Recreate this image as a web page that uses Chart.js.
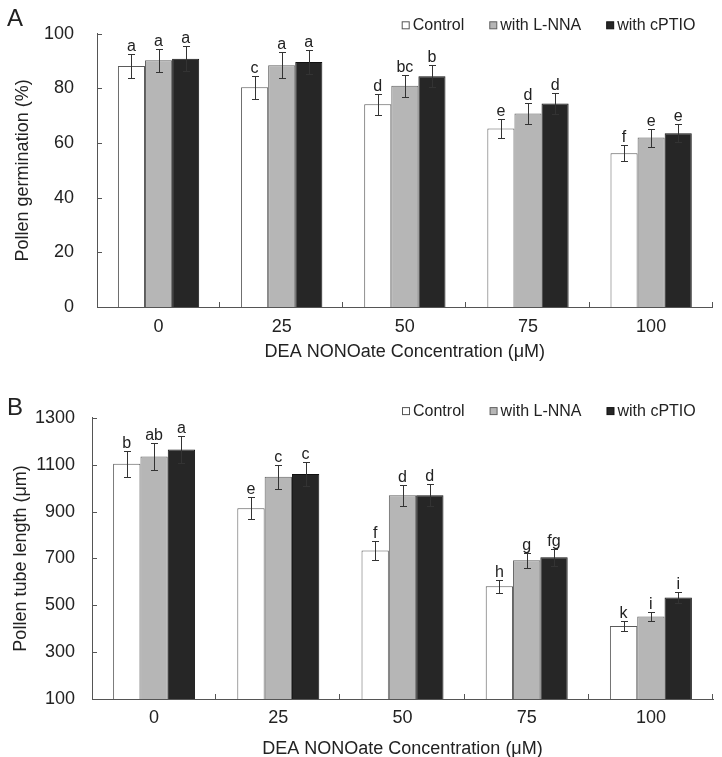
<!DOCTYPE html>
<html>
<head>
<meta charset="utf-8">
<script src="https://cdn.jsdelivr.net/npm/chart.js@4.4.1/dist/chart.umd.min.js"></script>
<style>
  html, body { margin: 0; padding: 0; background: #fff; overflow: hidden; }
  .panel { position: absolute; left: 0; width: 722px; }
  #panelA { top: 0; height: 390px; }
  #panelB { top: 390px; height: 380px; }
</style>
</head>
<body>
<div class="panel" id="panelA"><canvas id="chartA"></canvas></div>
<div class="panel" id="panelB"><canvas id="chartB"></canvas></div>
<script>
// DEA NONOate concentrations (µM)
const categories = ['0', '25', '50', '75', '100'];
const seriesNames = ['Control', 'with L-NNA', 'with cPTIO'];

// panel A - pollen germination (%)
const germControl = [88.2, 80.4, 74.2, 65.3, 56.3];
const germLNNA = [90.3, 88.5, 81.0, 70.8, 62.0];
const germCPTIO = [90.9, 89.7, 84.5, 74.5, 63.6];
const germControlErr = [4.4, 4.3, 3.9, 3.4, 2.9];
const germLNNAErr = [4.3, 4.7, 4.1, 3.8, 3.3];
const germCPTIOErr = [4.6, 4.4, 4.1, 3.8, 3.3];
const germControlLetters = ['a', 'c', 'd', 'e', 'f'];
const germLNNALetters = ['a', 'a', 'bc', 'd', 'e'];
const germCPTIOLetters = ['a', 'a', 'b', 'd', 'e'];
const germTicks = [0, 20, 40, 60, 80, 100];

// panel B - pollen tube length (µm)
const tubeControl = [1104, 914, 734, 581, 411];
const tubeLNNA = [1135, 1048, 970, 692, 452];
const tubeCPTIO = [1165, 1060, 970, 705, 533];
const tubeControlErr = [56, 46, 39, 28, 21];
const tubeLNNAErr = [57, 51, 45, 31, 21];
const tubeCPTIOErr = [57, 51, 48, 36, 25];
const tubeControlLetters = ['b', 'e', 'f', 'h', 'k'];
const tubeLNNALetters = ['ab', 'c', 'd', 'g', 'i'];
const tubeCPTIOLetters = ['a', 'c', 'd', 'fg', 'i'];
const tubeTicks = [100, 300, 500, 700, 900, 1100, 1300];

const FONT = '"Liberation Sans", Arial, sans-serif';
Chart.defaults.font.family = FONT;
Chart.defaults.color = '#222';

const fills = ['#ffffff', '#b6b6b6', '#262626'];
const borders = ['#5a5a5a', '#606060', '#111111'];

// error bars, letters, inside tick marks, legend and panel letter
const extras = {
  id: 'extras',
  afterDatasetsDraw(chart, args, opts) {
    const ctx = chart.ctx;
    const y = chart.scales.y;
    ctx.save();
    chart.data.datasets.forEach((ds, i) => {
      chart.getDatasetMeta(i).data.forEach((bar, j) => {
        const v = ds.data[j], e = ds.errors[j];
        const yTop = Math.round(y.getPixelForValue(v + e)) + 0.5;
        const yBot = Math.round(y.getPixelForValue(v - e)) + 0.5;
        const x = Math.round(bar.x) + 0.5;
        ctx.strokeStyle = '#333';
        ctx.lineWidth = 1;
        ctx.beginPath();
        ctx.moveTo(x, yTop); ctx.lineTo(x, yBot);
        ctx.moveTo(x - 3.5, yTop); ctx.lineTo(x + 3.5, yTop);
        ctx.moveTo(x - 3.5, yBot); ctx.lineTo(x + 3.5, yBot);
        ctx.stroke();
        ctx.fillStyle = '#222';
        ctx.font = '16px ' + FONT;
        ctx.textAlign = 'center';
        ctx.textBaseline = 'alphabetic';
        ctx.fillText(ds.letters[j], bar.x, yTop - 4);
      });
    });
    ctx.restore();
  },
  afterDraw(chart, args, opts) {
    const ctx = chart.ctx;
    const area = chart.chartArea;
    const x = chart.scales.x, y = chart.scales.y;
    ctx.save();
    ctx.strokeStyle = '#555';
    ctx.lineWidth = 1;
    ctx.beginPath();
    y.ticks.forEach(t => {
      const py = Math.round(y.getPixelForValue(t.value)) + 0.5;
      ctx.moveTo(area.left, py); ctx.lineTo(area.left + 5, py);
    });
    for (let i = 1; i <= categories.length; i++) {
      const px = Math.round(x.getPixelForValue(i - 0.5)) - 0.5;
      ctx.moveTo(px, area.bottom); ctx.lineTo(px, area.bottom - 5);
    }
    ctx.stroke();

    // legend
    ctx.font = '16px ' + FONT;
    ctx.textBaseline = 'middle';
    ctx.textAlign = 'left';
    let lx = area.right + opts.legendX;
    const ly = area.top + opts.legendY;
    chart.data.datasets.forEach((ds, i) => {
      ctx.fillStyle = fills[i];
      ctx.fillRect(lx + 0.5, ly - 3.5, 7, 7);
      ctx.strokeStyle = i === 0 ? '#555' : borders[i];
      ctx.strokeRect(lx + 0.5, ly - 3.5, 7, 7);
      ctx.fillStyle = '#222';
      ctx.fillText(ds.label, lx + 11, ly);
      lx += 11 + ctx.measureText(ds.label).width + 25;
    });

    // panel letter
    ctx.font = '24px ' + FONT;
    ctx.fillText(opts.panel, 7, opts.panelY);
    ctx.restore();
  }
};

function makeDatasets(values, errors, letters) {
  return values.map((v, i) => ({
    label: seriesNames[i],
    data: v,
    errors: errors[i],
    letters: letters[i],
    backgroundColor: fills[i],
    borderColor: borders[i],
    borderWidth: 1,
    categoryPercentage: 0.66,
    barPercentage: 1.0
  }));
}

function makeChart(id, cfg) {
  return new Chart(document.getElementById(id), {
    type: 'bar',
    data: {
      labels: categories,
      datasets: makeDatasets(cfg.values, cfg.errors, cfg.letters)
    },
    plugins: [extras],
    options: {
      responsive: true,
      maintainAspectRatio: false,
      animation: false,
      layout: { padding: { top: cfg.top, right: cfg.right, left: 0, bottom: 0 } },
      plugins: {
        legend: { display: false },
        tooltip: { enabled: false },
        extras: { panel: cfg.panel, panelY: cfg.panelY, legendX: -311, legendY: cfg.legendY }
      },
      scales: {
        x: {
          grid: { display: false, drawTicks: false },
          border: { display: true, color: '#555', width: 1 },
          ticks: { font: { size: 18 }, padding: cfg.xTickPad },
          title: {
            display: true,
            text: 'DEA NONOate Concentration (μM)',
            font: { size: 18 },
            padding: { top: 0, bottom: cfg.xTitlePad }
          },
          afterFit(scale) { scale.height = cfg.xHeight; }
        },
        y: {
          min: cfg.ticks[0],
          max: cfg.ticks[cfg.ticks.length - 1],
          grid: { display: false, drawTicks: false },
          border: { display: true, color: '#555', width: 1 },
          afterBuildTicks(scale) { scale.ticks = cfg.ticks.map(v => ({ value: v })); },
          ticks: { font: { size: 18 }, padding: cfg.yTickPad, callback: v => String(v) },
          title: {
            display: true,
            text: cfg.yTitle,
            font: { size: 18 },
            padding: { top: cfg.yTitlePad, bottom: 0 }
          },
          afterFit(scale) { scale.width = cfg.yWidth; }
        }
      }
    }
  });
}

makeChart('chartA', {
  values: [germControl, germLNNA, germCPTIO],
  errors: [germControlErr, germLNNAErr, germCPTIOErr],
  letters: [germControlLetters, germLNNALetters, germCPTIOLetters],
  ticks: germTicks,
  yTitle: 'Pollen germination (%)',
  panel: 'A', panelY: 19,
  top: 19.5, right: 9.3, xHeight: 83, yWidth: 97,
  xTickPad: 9, xTitlePad: 27, yTickPad: 23, yTitlePad: 12,
  legendY: -8.5
});

makeChart('chartB', {
  values: [tubeControl, tubeLNNA, tubeCPTIO],
  errors: [tubeControlErr, tubeLNNAErr, tubeCPTIOErr],
  letters: [tubeControlLetters, tubeLNNALetters, tubeCPTIOLetters],
  ticks: tubeTicks,
  yTitle: 'Pollen tube length (μm)',
  panel: 'B', panelY: 18,
  top: 20.7, right: 9, xHeight: 71, yWidth: 92,
  xTickPad: 8, xTitlePad: 10, yTickPad: 17, yTitlePad: 10,
  legendY: -6.7
});
</script>
</body>
</html>
